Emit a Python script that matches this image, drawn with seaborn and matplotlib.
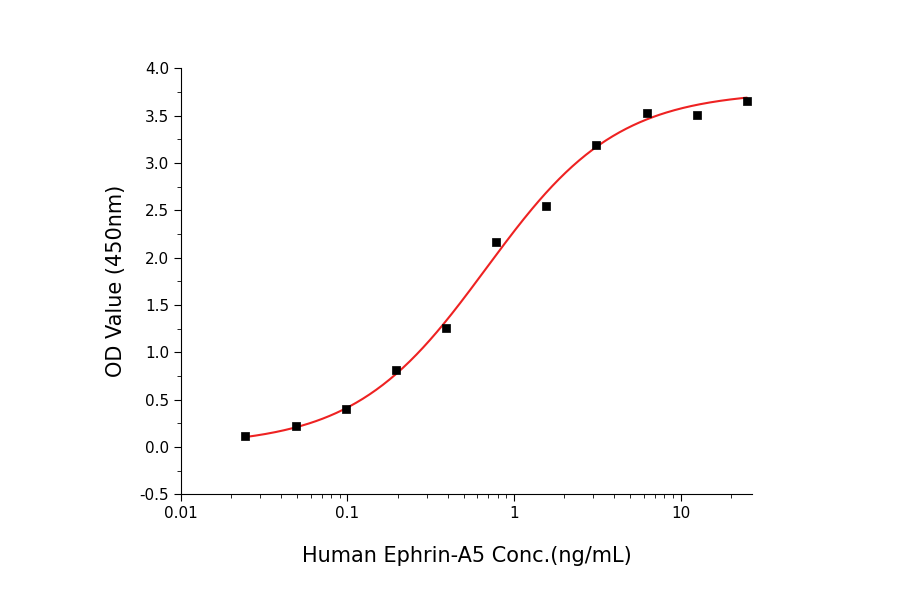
import numpy as np
import matplotlib
matplotlib.use("Agg")
import matplotlib.pyplot as plt
import seaborn as sns
from matplotlib.ticker import MultipleLocator, NullFormatter

sns.set_style("ticks")
plt.rcParams['font.family'] = ['DejaVu Sans']
plt.rcParams['axes.unicode_minus'] = False

conc = [0.0244, 0.0488, 0.0977, 0.195, 0.39, 0.78, 1.5625, 3.125, 6.25, 12.5, 25]
od = [0.12, 0.22, 0.40, 0.81, 1.26, 2.16, 2.55, 3.19, 3.53, 3.51, 3.65]
# 4PL fit parameters (bottom, top, EC50, hill)
bottom, top, ec50, hill = 0.01, 3.76, 0.68, 1.1

fig = plt.figure(figsize=(9, 5.94), dpi=100)
ax = fig.add_axes([0.201, 0.168, 0.635, 0.717])
xs = np.logspace(np.log10(conc[0]), np.log10(conc[-1]), 300)
ys = bottom + (top - bottom) / (1 + (ec50 / xs) ** hill)
sns.lineplot(x=xs, y=ys, ax=ax, color='#ee2222', lw=1.5)
sns.scatterplot(x=conc, y=od, ax=ax, marker='s', color='black', s=40, edgecolor='black', zorder=3)
ax.set_xscale('log')
ax.set_xlim(0.01, 27)
ax.set_ylim(-0.5, 4.0)
ax.yaxis.set_major_locator(MultipleLocator(0.5))
ax.yaxis.set_minor_locator(MultipleLocator(0.25))
ax.set_xticks([0.01, 0.1, 1, 10])
ax.set_xticklabels(['0.01', '0.1', '1', '10'])
ax.xaxis.set_minor_formatter(NullFormatter())
ax.tick_params(which='major', direction='out', length=5, labelsize=11, colors='black')
ax.tick_params(which='minor', direction='out', length=3, colors='black')
for s in ax.spines.values():
    s.set_color('black')
sns.despine(ax=ax)
ax.set_xlabel('Human Ephrin-A5 Conc.(ng/mL)', fontsize=15, labelpad=18, color='black')
ax.set_ylabel('OD Value (450nm)', fontsize=15, labelpad=10, color='black')
fig.savefig('out.png', dpi=100)
